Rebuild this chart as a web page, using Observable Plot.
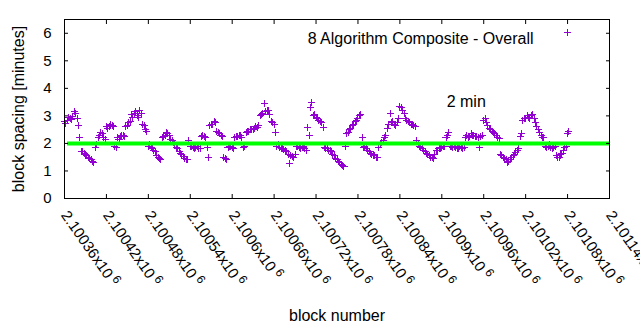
<!DOCTYPE html>
<html><head><meta charset="utf-8">
<script src="https://cdn.jsdelivr.net/npm/d3@7"></script>
<script src="https://cdn.jsdelivr.net/npm/@observablehq/plot@0.6"></script>
<style>body{margin:0;background:#fff} svg{display:block}</style>
</head><body><div id="chart"></div>
<script>
const blocks = [
2100360,2100362,2100364,2100366,2100368,2100370,2100372,2100374,2100376,2100378,
2100380,2100382,2100384,2100386,2100388,2100390,2100392,2100394,2100396,2100398,
2100400,2100402,2100404,2100406,2100408,2100410,2100412,2100414,2100416,2100418,
2100420,2100422,2100424,2100426,2100428,2100430,2100432,2100434,2100436,2100438,
2100440,2100442,2100444,2100446,2100448,2100450,2100452,2100454,2100456,2100458,
2100460,2100462,2100464,2100466,2100468,2100470,2100472,2100474,2100476,2100478,
2100480,2100482,2100484,2100486,2100488,2100490,2100492,2100494,2100496,2100498,
2100500,2100502,2100504,2100506,2100508,2100510,2100512,2100514,2100516,2100518,
2100520,2100522,2100524,2100526,2100528,2100530,2100532,2100534,2100536,2100538,
2100540,2100542,2100544,2100546,2100548,2100550,2100552,2100554,2100556,2100558,
2100560,2100562,2100564,2100566,2100568,2100570,2100572,2100574,2100576,2100578,
2100580,2100582,2100584,2100586,2100588,2100590,2100592,2100594,2100596,2100598,
2100600,2100602,2100604,2100606,2100608,2100610,2100612,2100614,2100616,2100618,
2100620,2100622,2100624,2100626,2100628,2100630,2100632,2100634,2100636,2100638,
2100640,2100642,2100644,2100646,2100648,2100650,2100652,2100654,2100656,2100658,
2100660,2100662,2100664,2100666,2100668,2100670,2100672,2100674,2100676,2100678,
2100680,2100682,2100684,2100686,2100688,2100690,2100692,2100694,2100696,2100698,
2100700,2100702,2100704,2100706,2100708,2100710,2100712,2100714,2100716,2100718,
2100720,2100722,2100724,2100726,2100728,2100730,2100732,2100734,2100736,2100738,
2100740,2100742,2100744,2100746,2100748,2100750,2100752,2100754,2100756,2100758,
2100760,2100762,2100764,2100766,2100768,2100770,2100772,2100774,2100776,2100778,
2100780,2100782,2100784,2100786,2100788,2100790,2100792,2100794,2100796,2100798,
2100800,2100802,2100804,2100806,2100808,2100810,2100812,2100814,2100816,2100818,
2100820,2100822,2100824,2100826,2100828,2100830,2100832,2100834,2100836,2100838,
2100840,2100842,2100844,2100846,2100848,2100850,2100852,2100854,2100856,2100858,
2100860,2100862,2100864,2100866,2100868,2100870,2100872,2100874,2100876,2100878,
2100880,2100882,2100884,2100886,2100888,2100890,2100892,2100894,2100896,2100898,
2100900,2100902,2100904,2100906,2100908,2100910,2100912,2100914,2100916,2100918,
2100920,2100922,2100924,2100926,2100928,2100930,2100932,2100934,2100936,2100938,
2100940,2100942,2100944,2100946,2100948,2100950,2100952,2100954,2100956,2100958,
2100960,2100962,2100964,2100966,2100968,2100970,2100972,2100974,2100976,2100978,
2100980,2100982,2100984,2100986,2100988,2100990,2100992,2100994,2100996,2100998,
2101000,2101002,2101004,2101006,2101008,2101010,2101012,2101014,2101016,2101018,
2101020,2101022,2101024,2101026,2101028,2101030,2101032,2101034,2101036,2101038,
2101040,2101042,2101044,2101046,2101048,2101050,2101052,2101054,2101056,2101058,
2101060,2101062,2101064,2101066,2101068,2101070,2101072,2101074,2101076,2101078,
2101080,2101082
];
const spacingMinutes = [
2.78,2.72,2.85,2.95,2.9,2.88,2.98,3.15,3.08,2.9,2.65,2.2,1.7,1.72,1.62,1.58,1.55,1.5,1.45,1.42,
1.35,1.3,1.85,1.95,2.2,2.3,2.4,2.35,2.2,2.15,2.6,2.55,2.62,2.7,2.65,2.6,1.9,1.85,2.2,2.15,
2.25,2.3,2.3,2.25,2.6,2.65,2.75,2.8,3.05,2.95,3.1,3.15,3.0,2.95,3.2,3.1,2.7,2.65,2.5,2.45,
1.9,1.95,1.85,1.8,1.75,1.7,1.55,1.5,1.45,1.4,2.2,2.25,2.3,2.38,2.35,2.3,2.15,2.1,2.05,1.95,
1.85,1.8,1.7,1.65,1.6,1.52,1.45,1.42,1.4,2.1,1.9,1.88,1.85,1.8,1.85,1.9,1.8,1.82,2.25,2.3,
2.25,2.2,1.85,1.5,2.65,2.7,2.7,2.78,2.75,2.45,2.4,2.35,2.3,2.25,1.5,1.45,1.4,1.85,1.9,1.9,
1.85,1.8,2.2,2.25,2.25,2.3,2.3,2.2,1.85,1.9,2.4,2.45,2.45,2.5,2.5,2.5,2.55,2.6,2.58,2.65,
3.0,3.05,3.1,3.45,3.15,3.2,3.2,3.05,2.8,2.75,2.7,2.4,1.9,1.95,1.85,1.8,1.8,1.78,1.75,1.7,
1.6,1.27,1.55,1.52,1.5,1.6,1.9,1.88,1.85,1.8,1.85,1.9,1.8,1.75,2.58,2.3,3.3,3.5,3.0,3.05,
2.95,2.9,2.85,2.8,2.75,2.58,1.85,1.8,1.8,1.75,1.75,1.7,1.6,1.55,1.45,1.4,1.35,1.3,1.25,1.2,
1.15,1.9,2.35,2.4,2.5,2.55,2.65,2.7,2.8,2.85,2.9,3.0,3.05,2.2,1.85,1.9,1.8,1.75,1.7,1.65,
1.6,1.58,1.55,1.5,1.5,1.85,1.95,2.05,2.1,2.2,2.3,2.55,2.7,3.1,2.75,2.8,2.7,2.65,2.75,2.9,
3.35,3.3,3.2,3.1,2.9,2.85,2.8,2.75,2.7,2.68,2.65,2.6,2.1,2.0,1.9,1.85,1.8,1.75,1.7,1.65,
1.6,1.55,1.5,1.48,1.45,1.6,1.75,1.75,1.8,1.82,1.85,1.88,1.9,2.2,2.3,2.4,1.9,1.88,1.85,1.9,
1.85,1.82,1.8,1.9,1.85,1.8,1.85,2.2,2.3,2.2,2.25,2.35,2.3,2.3,2.25,2.25,2.2,1.85,2.25,2.3,
2.85,2.9,2.75,2.65,2.55,2.5,2.45,2.4,2.35,2.28,2.2,2.18,1.6,1.55,1.5,1.45,1.4,1.3,1.35,1.42,
1.5,1.55,1.6,1.68,1.75,1.82,2.25,2.35,2.85,2.9,2.9,3.0,2.95,2.9,3.0,3.05,2.9,2.75,2.6,2.5,
2.4,2.3,2.2,2.2,1.9,1.85,1.9,1.95,1.85,1.8,1.85,1.9,1.55,1.5,1.5,1.58,1.65,1.75,1.85,1.9,
2.35,2.45
];
const xTickValues = [2100360,2100420,2100480,2100540,2100600,2100660,2100720,2100780,2100840,2100900,2100960,2101020,2101080,2101140];
const xTickLabels = ["2.10036","2.10042","2.10048","2.10054","2.1006","2.10066","2.10072","2.10078","2.10084","2.1009","2.10096","2.10102","2.10108","2.10114"];
const yTickValues = [0,1,2,3,4,5,6];
const targetMinutes = [2];
const seriesName = ["8 Algorithm Composite - Overall"];
const noteText = ["2 min"];
const noteBlock = [2100907];
const noteValue = [3.5];

const data = blocks.map((b, i) => ({block: b, spacing: spacingMinutes[i]}));
const notes = noteText.map((t, i) => ({text: t, block: noteBlock[i], value: noteValue[i]}));
const font = "'Liberation Sans', Arial, sans-serif";
const purple = "#9400d3";
const noText = () => "";

const chart = Plot.plot({
  width: 640, height: 330,
  marginLeft: 64, marginRight: 31, marginTop: 19, marginBottom: 132,
  style: {fontFamily: font, fontSize: "15px", color: "#000", background: "#fff"},
  x: {type: "linear", domain: [2100360, 2101140]},
  y: {domain: [0, 6.5]},
  marks: [
    Plot.dot(data, {x: "block", y: "spacing", symbol: "plus", r: 2.4, stroke: purple, strokeWidth: 1, shapeRendering: "crispEdges"}),
    Plot.ruleY(targetMinutes, {stroke: "#00ff00", strokeWidth: 4, insetLeft: 3}),
    Plot.text(notes, {x: "block", y: "value", text: "text", textAnchor: "start", fontSize: 16, fill: "#000"}),
    Plot.text(seriesName, {frameAnchor: "top-right", dx: -76, dy: 13, textAnchor: "end", fontSize: 16, fill: "#000"}),
    Plot.dot(seriesName, {frameAnchor: "top-right", dx: -42, dy: 13, symbol: "plus", r: 2.4, stroke: purple, strokeWidth: 1, shapeRendering: "crispEdges"}),
    Plot.frame({stroke: "#000"}),
    Plot.axisX(xTickValues, {anchor: "bottom", tickSize: -4, tickFormat: noText, label: null}),
    Plot.axisX(xTickValues, {anchor: "top", tickSize: -4, tickFormat: noText, label: null}),
    Plot.axisY(yTickValues, {anchor: "left", tickSize: -4, tickFormat: noText, label: null}),
    Plot.axisY(yTickValues, {anchor: "right", tickSize: -4, tickFormat: noText, label: null}),
    Plot.axisX(xTickValues, {anchor: "bottom", tickSize: 0, tickPadding: 14, tickRotate: 55,
      tickFormat: d => xTickLabels[xTickValues.indexOf(d)] + "x10",
      label: "block number", labelAnchor: "center", labelOffset: 122, labelArrow: "none", fontSize: 15}),
    Plot.axisY(yTickValues, {anchor: "left", tickSize: 0, tickPadding: 13,
      label: "block spacing [minutes]", labelAnchor: "center", labelOffset: 52, labelArrow: "none", fontSize: 15})
  ]
});
document.getElementById("chart").appendChild(chart);
d3.select(chart).selectAll('g[aria-label="x-axis tick label"] text').each(function() {
  if (this.textContent.trim() === "") return;
  d3.select(this).append("tspan").attr("dy", "-0.45em").attr("font-size", "12px").text("\u00a06");
});
d3.select(chart).selectAll('g[aria-label="x-axis label"] text, g[aria-label="y-axis label"] text').attr("font-size", 16);
</script>
</body></html>
